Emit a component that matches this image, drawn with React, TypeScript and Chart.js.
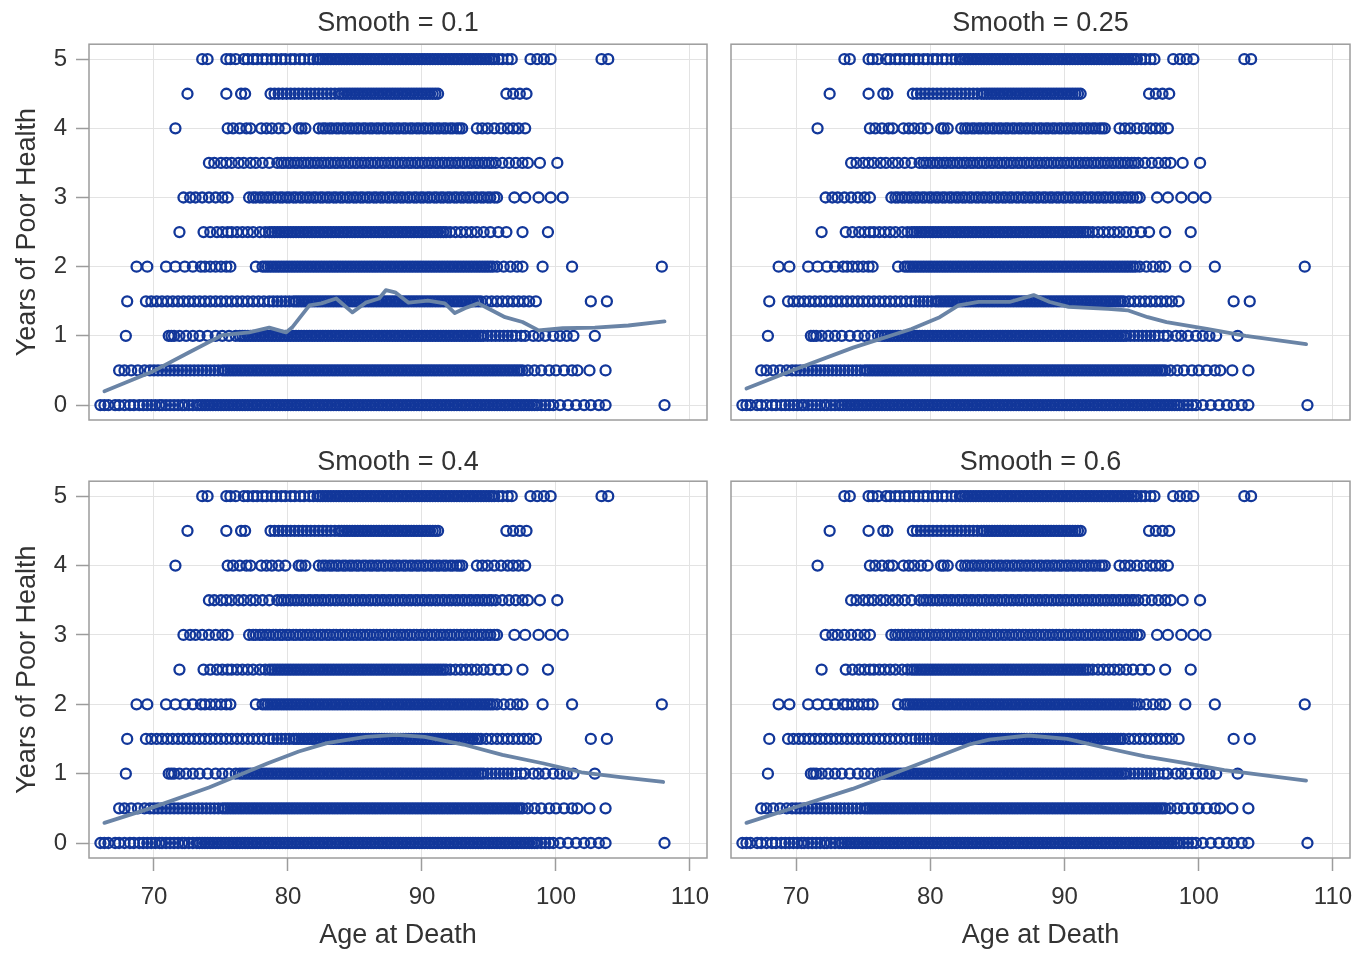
import React, { useEffect, useRef } from "react";
import { Chart, registerables } from "chart.js";

Chart.register(...registerables);

const FONT = '"Liberation Sans", Arial, Helvetica, sans-serif';
const TEXT = "#333333";
const MARKER = "#12379a";
const FIT = "#6a84a6";
const GRID = "#e3e3e3";
const FRAME = "#9c9c9c";

// ---------- axes ----------
const xTicks = [70, 80, 90, 100, 110];
const yTicks = [0, 1, 2, 3, 4, 5];
const X_MIN = 65.15;
const X_MAX = 111.27;
const Y_MIN = -0.216;
const Y_MAX = 5.216;

// ---------- scatter data: age at death for each "years of poor health" level ----------
const yLevels = [0, 0.5, 1, 1.5, 2, 2.5, 3, 3.5, 4, 4.5, 5];

const ageRow0 = [66.0, 66.3, 66.6, 67.1, 67.4, 67.8, 68.2, 68.5,
  68.9, 69.2, 69.5, 69.8, 70.1, 70.4, 70.6, 70.9, 71.2, 71.5, 71.8, 72.1, 72.3, 72.6, 72.9, 73.2,
  73.4, 73.6, 73.8, 74.0, 74.2, 74.4, 74.6, 74.8, 75.0, 75.2, 75.4, 75.6, 75.8, 76.0, 76.2, 76.4, 76.6, 76.8, 77.0, 77.2, 77.4, 77.6, 77.8, 78.0, 78.2, 78.4, 78.6, 78.8, 79.0, 79.2, 79.4, 79.6, 79.8,
  80.0, 80.2, 80.4, 80.6, 80.8, 81.0, 81.2, 81.4, 81.6, 81.8, 82.0, 82.2, 82.4, 82.6, 82.8, 83.0, 83.2, 83.4, 83.6, 83.8, 84.0, 84.2, 84.4, 84.6, 84.8, 85.0, 85.2, 85.4, 85.6, 85.8, 86.0, 86.2, 86.4, 86.6, 86.8, 87.0, 87.2, 87.4, 87.6, 87.8, 88.0, 88.2, 88.4, 88.6, 88.8, 89.0, 89.2, 89.4, 89.6, 89.8,
  90.0, 90.2, 90.4, 90.6, 90.8, 91.0, 91.2, 91.4, 91.6, 91.8, 92.0, 92.2, 92.4, 92.6, 92.8, 93.0, 93.2, 93.4, 93.6, 93.8, 94.0, 94.2, 94.4, 94.6, 94.8, 95.0, 95.2, 95.4, 95.6, 95.8, 96.0, 96.2, 96.4, 96.6, 96.8, 97.0, 97.2, 97.4, 97.6, 97.8, 98.0, 98.2, 98.4, 98.6, 98.9, 99.2, 99.5,
  99.8, 100.3, 100.9, 101.5, 102.1, 102.6, 103.2, 103.7, 108.1];

const ageRow05 = [67.4, 67.8, 68.3, 68.8, 69.3, 69.7,
  70.0, 70.3, 70.6, 70.9, 71.2, 71.5, 71.8, 72.1, 72.4, 72.7, 73.0, 73.3, 73.6, 73.9, 74.2, 74.5, 74.8,
  75.1, 75.3, 75.5, 75.7, 75.9, 76.1, 76.3, 76.5, 76.7, 76.9, 77.1, 77.3, 77.5, 77.7, 77.9, 78.1, 78.3, 78.5, 78.7, 78.9, 79.1, 79.3, 79.5, 79.7, 79.9,
  80.1, 80.3, 80.5, 80.7, 80.9, 81.1, 81.3, 81.5, 81.7, 81.9, 82.1, 82.3, 82.5, 82.7, 82.9, 83.1, 83.3, 83.5, 83.7, 83.9, 84.1, 84.3, 84.5, 84.7, 84.9, 85.1, 85.3, 85.5, 85.7, 85.9, 86.1, 86.3, 86.5, 86.7, 86.9, 87.1, 87.3, 87.5, 87.7, 87.9, 88.1, 88.3, 88.5, 88.7, 88.9, 89.1, 89.3, 89.5, 89.7, 89.9,
  90.1, 90.3, 90.5, 90.7, 90.9, 91.1, 91.3, 91.5, 91.7, 91.9, 92.1, 92.3, 92.5, 92.7, 92.9, 93.1, 93.3, 93.5, 93.7, 93.9, 94.1, 94.3, 94.5, 94.7, 94.9, 95.1, 95.3, 95.5, 95.7, 95.9, 96.1, 96.3, 96.5, 96.7, 96.9, 97.1, 97.3, 97.5,
  97.9, 98.4, 98.9, 99.5, 100.0, 100.6, 101.2, 101.6, 102.5, 103.7];

const ageRow1 = [67.9, 71.1, 71.3, 71.5, 71.9, 72.4, 72.9, 73.4, 74.0, 74.6, 75.1, 75.6, 76.1,
  76.4, 76.6, 76.8, 77.0, 77.2, 77.4, 77.6, 77.8, 78.0, 78.2, 78.4, 78.6, 78.8, 79.0, 79.2, 79.4, 79.6, 79.8,
  80.0, 80.2, 80.4, 80.6, 80.8, 81.0, 81.2, 81.4, 81.6, 81.8, 82.0, 82.2, 82.4, 82.6, 82.8, 83.0, 83.2, 83.4, 83.6, 83.8, 84.0, 84.2, 84.4, 84.6, 84.8, 85.0, 85.2, 85.4, 85.6, 85.8, 86.0, 86.2, 86.4, 86.6, 86.8, 87.0, 87.2, 87.4, 87.6, 87.8, 88.0, 88.2, 88.4, 88.6, 88.8, 89.0, 89.2, 89.4, 89.6, 89.8,
  90.0, 90.2, 90.4, 90.6, 90.8, 91.0, 91.2, 91.4, 91.6, 91.8, 92.0, 92.2, 92.4, 92.6, 92.8, 93.0, 93.2, 93.4, 93.6, 93.8, 94.0, 94.2, 94.4, 94.6,
  94.9, 95.2, 95.5, 95.8, 96.1, 96.4, 96.7, 97.0, 97.4, 97.7,
  98.3, 98.7, 99.2, 99.8, 100.3, 100.8, 101.3, 102.9];

const ageRow15 = [68.0, 69.4, 69.8, 70.2, 70.6, 71.0, 71.4, 71.8, 72.2, 72.6, 73.0, 73.4, 73.8, 74.2, 74.6, 75.0, 75.4, 75.8, 76.2, 76.6, 77.0, 77.4, 77.8, 78.2, 78.6, 78.9, 79.2, 79.5, 79.8, 80.1,
  80.4, 80.6, 80.8, 81.0, 81.2, 81.4, 81.6, 81.8, 82.0, 82.2, 82.4, 82.6, 82.8, 83.0, 83.2, 83.4, 83.6, 83.8, 84.0, 84.2, 84.4, 84.6, 84.8, 85.0, 85.2, 85.4, 85.6, 85.8, 86.0, 86.2, 86.4, 86.6, 86.8, 87.0, 87.2, 87.4, 87.6, 87.8, 88.0, 88.2, 88.4, 88.6, 88.8, 89.0, 89.2, 89.4, 89.6, 89.8,
  90.0, 90.2, 90.4, 90.6, 90.8, 91.0, 91.2, 91.4, 91.6, 91.8, 92.0, 92.2, 92.4, 92.6, 92.8, 93.0, 93.2, 93.4, 93.6, 93.8, 94.0, 94.2, 94.4,
  94.8, 95.2, 95.6, 96.0, 96.4, 96.8, 97.2, 97.6, 98.0, 98.5, 102.6, 103.8];

const ageRow2 = [68.7, 69.5, 70.9, 71.6, 72.3, 72.9, 73.5, 73.8, 74.2, 74.6, 75.0, 75.4, 75.7, 77.6,
  78.1, 78.3, 78.5, 78.7, 78.9, 79.1, 79.3, 79.5, 79.7, 79.9,
  80.1, 80.3, 80.5, 80.7, 80.9, 81.1, 81.3, 81.5, 81.7, 81.9, 82.1, 82.3, 82.5, 82.7, 82.9, 83.1, 83.3, 83.5, 83.7, 83.9, 84.1, 84.3, 84.5, 84.7, 84.9, 85.1, 85.3, 85.5, 85.7, 85.9, 86.1, 86.3, 86.5, 86.7, 86.9, 87.1, 87.3, 87.5, 87.7, 87.9, 88.1, 88.3, 88.5, 88.7, 88.9, 89.1, 89.3, 89.5, 89.7, 89.9,
  90.1, 90.3, 90.5, 90.7, 90.9, 91.1, 91.3, 91.5, 91.7, 91.9, 92.1, 92.3, 92.5, 92.7, 92.9, 93.1, 93.3, 93.5, 93.7, 93.9, 94.1, 94.3, 94.5, 94.7, 94.9, 95.1, 95.3,
  95.6, 96.1, 96.6, 97.1, 97.5, 99.0, 101.2, 107.9];

const ageRow25 = [71.9, 73.7, 74.2, 74.7, 75.1, 75.5, 75.8, 76.2, 76.6, 77.0, 77.4, 77.9, 78.3,
  78.6, 78.8, 79.0, 79.2, 79.4, 79.6, 79.8,
  80.0, 80.2, 80.4, 80.6, 80.8, 81.0, 81.2, 81.4, 81.6, 81.8, 82.0, 82.2, 82.4, 82.6, 82.8, 83.0, 83.2, 83.4, 83.6, 83.8, 84.0, 84.2, 84.4, 84.6, 84.8, 85.0, 85.2, 85.4, 85.6, 85.8, 86.0, 86.2, 86.4, 86.6, 86.8, 87.0, 87.2, 87.4, 87.6, 87.8, 88.0, 88.2, 88.4, 88.6, 88.8, 89.0, 89.2, 89.4, 89.6, 89.8,
  90.0, 90.2, 90.4, 90.6, 90.8, 91.0, 91.2, 91.4, 91.6, 91.8,
  92.1, 92.5, 92.9, 93.3, 93.7, 94.1, 94.6, 95.1, 95.7, 96.3, 97.5, 99.4];

const ageRow3 = [72.2, 72.7, 73.1, 73.6, 74.1, 74.6, 75.1, 75.5,
  77.1, 77.4, 77.6, 77.9, 78.1, 78.4, 78.6, 78.9, 79.1, 79.4, 79.6, 79.9,
  80.1, 80.4, 80.6, 80.9, 81.1, 81.4, 81.6, 81.9, 82.1, 82.4, 82.6, 82.9, 83.1, 83.4, 83.6, 83.9, 84.1, 84.4, 84.6, 84.9, 85.1, 85.4, 85.6, 85.9, 86.1, 86.4, 86.6, 86.9, 87.1, 87.4, 87.6, 87.9, 88.1, 88.4, 88.6, 88.9, 89.1, 89.4, 89.6, 89.9,
  90.1, 90.4, 90.6, 90.9, 91.1, 91.4, 91.6, 91.9, 92.1, 92.4, 92.6, 92.9, 93.1, 93.4, 93.6, 93.9, 94.1, 94.4, 94.6, 94.9, 95.1, 95.4, 95.6,
  96.9, 97.7, 98.7, 99.6, 100.5];

const ageRow35 = [74.1, 74.5, 75.0, 75.4, 75.8, 76.3, 76.7, 77.2, 77.6, 78.1, 78.6,
  79.2, 79.5, 79.7, 80.0, 80.2, 80.5, 80.7, 81.0, 81.2, 81.5, 81.7, 82.0, 82.2, 82.5, 82.7, 83.0, 83.2, 83.5, 83.7, 84.0, 84.2, 84.5, 84.7, 85.0, 85.2, 85.5, 85.7, 86.0, 86.2, 86.5, 86.7, 87.0, 87.2, 87.5, 87.7, 88.0, 88.2, 88.5, 88.7, 89.0, 89.2, 89.5, 89.7,
  90.0, 90.2, 90.5, 90.7, 91.0, 91.2, 91.5, 91.7, 92.0, 92.2, 92.5, 92.7, 93.0, 93.2, 93.5, 93.7, 94.0, 94.2, 94.5, 94.7, 95.0, 95.2,
  95.5, 96.0, 96.5, 97.0, 97.5, 97.9, 98.8, 100.1];

const ageRow4 = [71.6, 75.5, 75.9, 76.4, 76.9, 77.2, 78.0, 78.4, 78.8, 79.3, 79.8, 80.8, 81.0, 81.3,
  82.3, 82.6, 82.8, 83.1, 83.3, 83.6, 83.8, 84.1, 84.3, 84.6, 84.8, 85.1, 85.3, 85.6, 85.8, 86.1, 86.3, 86.6, 86.8, 87.1, 87.3, 87.6, 87.8, 88.1, 88.3, 88.6, 88.8, 89.1, 89.3, 89.6, 89.8,
  90.1, 90.3, 90.6, 90.8, 91.1, 91.3, 91.6, 91.8, 92.1, 92.3, 92.6, 92.8, 93.0,
  94.1, 94.5, 94.9, 95.4, 95.9, 96.4, 96.8, 97.2, 97.7];

const ageRow45 = [72.5, 75.4, 76.5, 76.8,
  78.7, 79.0, 79.3, 79.6, 79.9, 80.2, 80.5, 80.8, 81.1, 81.4, 81.7, 82.0, 82.3, 82.6, 82.9, 83.2, 83.5, 83.8,
  84.0, 84.2, 84.4, 84.6, 84.8, 85.0, 85.2, 85.4, 85.6, 85.8, 86.0, 86.2, 86.4, 86.6, 86.8, 87.0, 87.2, 87.4, 87.6, 87.8, 88.0, 88.2, 88.4, 88.6, 88.8, 89.0, 89.2, 89.4, 89.6, 89.8,
  90.0, 90.2, 90.4, 90.6, 90.8, 91.0, 91.2,
  96.3, 96.8, 97.3, 97.8];

const ageRow5 = [73.6, 74.0, 75.4, 75.7, 76.1,
  76.7, 77.0, 77.4, 77.7, 78.1, 78.4, 78.8, 79.1, 79.5, 79.8, 80.2, 80.5, 80.9, 81.2, 81.6, 81.9,
  82.2, 82.4, 82.6, 82.8, 83.0, 83.2, 83.4, 83.6, 83.8, 84.0, 84.2, 84.4, 84.6, 84.8, 85.0, 85.2, 85.4, 85.6, 85.8, 86.0, 86.2, 86.4, 86.6, 86.8, 87.0, 87.2, 87.4, 87.6, 87.8, 88.0, 88.2, 88.4, 88.6, 88.8, 89.0, 89.2, 89.4, 89.6, 89.8,
  90.0, 90.2, 90.4, 90.6, 90.8, 91.0, 91.2, 91.4, 91.6, 91.8, 92.0, 92.2, 92.4, 92.6, 92.8, 93.0, 93.2, 93.4, 93.6, 93.8, 94.0, 94.2, 94.4, 94.6, 94.8, 95.0, 95.2, 95.4,
  95.7, 96.0, 96.4, 96.7,
  98.1, 98.6, 99.1, 99.6, 103.4, 103.9];

const ageRows = [ageRow0, ageRow05, ageRow1, ageRow15, ageRow2, ageRow25, ageRow3, ageRow35, ageRow4, ageRow45, ageRow5];

// ---------- loess fits ----------
const smooth010Age = [66.3, 69.85, 72.6, 75.1, 77.1, 78.6, 79.85, 80.3, 81.6, 82.5, 83.6, 84.8, 85.8, 86.8, 87.3, 88.0, 89.0, 90.45, 91.7, 92.45, 93.2, 94.2, 95.2, 96.2, 97.5, 98.7, 100.5, 102.9, 105.4, 108.1];
const smooth010Val = [0.20, 0.48, 0.76, 1.01, 1.05, 1.12, 1.05, 1.12, 1.44, 1.47, 1.54, 1.34, 1.48, 1.54, 1.66, 1.63, 1.48, 1.51, 1.47, 1.33, 1.40, 1.47, 1.37, 1.27, 1.20, 1.08, 1.11, 1.12, 1.15, 1.21];

const smooth025Age = [66.3, 69.85, 74.25, 78.6, 80.7, 82.1, 83.6, 85.9, 87.7, 88.9, 90.3, 93.25, 94.7, 96.2, 97.6, 100.6, 103.5, 108.0];
const smooth025Val = [0.24, 0.51, 0.83, 1.10, 1.27, 1.44, 1.49, 1.49, 1.59, 1.49, 1.42, 1.39, 1.37, 1.27, 1.20, 1.10, 1.00, 0.88];

const smooth040Age = [66.3, 69.7, 74.1, 78.5, 80.8, 82.9, 85.8, 88.1, 90.2, 93.1, 96.0, 99.0, 101.9, 104.8, 108.0];
const smooth040Val = [0.29, 0.50, 0.80, 1.15, 1.32, 1.44, 1.53, 1.56, 1.53, 1.42, 1.27, 1.15, 1.02, 0.95, 0.88];

const smooth060Age = [66.3, 70.0, 74.2, 78.6, 82.9, 84.4, 87.3, 90.2, 93.1, 96.0, 99.0, 101.9, 104.8, 108.0];
const smooth060Val = [0.29, 0.52, 0.78, 1.10, 1.42, 1.49, 1.55, 1.50, 1.37, 1.25, 1.15, 1.05, 0.98, 0.90];

const framePlugin = {
  id: "panelFrame",
  afterDatasetsDraw(chart: any) {
    const { ctx, chartArea: a } = chart;
    ctx.save();
    ctx.strokeStyle = FRAME;
    ctx.lineWidth = 1.5;
    ctx.strokeRect(a.left, a.top, a.right - a.left, a.bottom - a.top);
    ctx.restore();
  },
};

type PanelProps = {
  title: string;
  fitAges: number[];
  fitVals: number[];
  showY: boolean;
  showX: boolean;
  left: number;
  top: number;
  width: number;
  height: number;
};

function Panel(p: PanelProps) {
  const ref = useRef<HTMLCanvasElement | null>(null);
  useEffect(() => {
    if (!ref.current) return;
    const points: { x: number; y: number }[] = [];
    ageRows.forEach((row, i) => row.forEach((a) => points.push({ x: a, y: yLevels[i] })));
    const fit = p.fitAges.map((a, i) => ({ x: a, y: p.fitVals[i] }));
    const titlePad = p.showX ? { top: 16, bottom: 2.8 } : { top: 7, bottom: 4.8 };
    const chart = new Chart(ref.current, {
      type: "scatter",
      data: {
        datasets: [
          {
            type: "line",
            data: fit,
            borderColor: FIT,
            borderWidth: 3.8,
            pointRadius: 0,
            fill: false,
            tension: 0,
            borderJoinStyle: "round",
            borderCapStyle: "round",
            order: 0,
          } as any,
          {
            type: "scatter",
            data: points,
            pointRadius: 5,
            pointBorderWidth: 2.3,
            borderColor: MARKER,
            pointBorderColor: MARKER,
            backgroundColor: "rgba(0,0,0,0)",
            pointBackgroundColor: "rgba(0,0,0,0)",
            order: 1,
          } as any,
        ],
      },
      options: {
        animation: false,
        responsive: false,
        events: [],
        layout: { padding: { left: 0, top: 0, right: p.showY ? 8 : 21, bottom: p.showX ? 0 : 10 } },
        plugins: {
          legend: { display: false },
          tooltip: { enabled: false },
          title: {
            display: true,
            fullSize: false,
            text: p.title,
            color: TEXT,
            font: { family: FONT, size: 27, weight: "normal" },
            padding: titlePad,
          },
        },
        scales: {
          x: {
            type: "linear",
            min: X_MIN,
            max: X_MAX,
            afterBuildTicks: (axis: any) => {
              axis.ticks = xTicks.map((v) => ({ value: v }));
            },
            afterFit: (s: any) => {
              s.height = p.showX ? 97 : 0;
              s.paddingLeft = 0;
              s.paddingRight = 0;
            },
            ticks: {
              display: p.showX,
              autoSkip: false,
              maxRotation: 0,
              color: TEXT,
              padding: 12,
              font: { family: FONT, size: 24 },
              callback: (v: any) => String(v),
            },
            grid: {
              color: GRID,
              lineWidth: 1,
              drawTicks: p.showX,
              tickLength: 13,
              tickColor: FRAME,
              tickWidth: 1.5,
            },
            border: { display: false },
            title: {
              display: p.showX,
              text: "Age at Death",
              color: TEXT,
              font: { family: FONT, size: 27 },
              padding: { top: 0, bottom: 3.4 },
            },
          },
          y: {
            type: "linear",
            min: Y_MIN,
            max: Y_MAX,
            afterBuildTicks: (axis: any) => {
              axis.ticks = yTicks.map((v) => ({ value: v }));
            },
            afterFit: (s: any) => {
              s.width = p.showY ? 89 : 16;
              s.paddingTop = 0;
              s.paddingBottom = 0;
            },
            ticks: {
              display: p.showY,
              autoSkip: false,
              color: TEXT,
              padding: 9,
              font: { family: FONT, size: 24 },
              callback: (v: any) => String(v),
            },
            grid: {
              color: GRID,
              lineWidth: 1,
              drawTicks: p.showY,
              tickLength: 13,
              tickColor: FRAME,
              tickWidth: 1.5,
            },
            border: { display: false },
            title: {
              display: p.showY,
              text: "Years of Poor Health",
              color: TEXT,
              font: { family: FONT, size: 27 },
              padding: { top: 11, bottom: 0 },
            },
          },
        },
      } as any,
      plugins: [framePlugin],
    });
    return () => chart.destroy();
  }, []);
  return (
    <canvas
      ref={ref}
      width={p.width}
      height={p.height}
      style={{ position: "absolute", left: p.left, top: p.top, width: p.width, height: p.height }}
    />
  );
}

export default function App() {
  return (
    <div style={{ position: "absolute", left: 0, top: 0, width: 1371, height: 955, background: "#ffffff", overflow: "hidden" }}>
      <Panel title="Smooth = 0.1" fitAges={smooth010Age} fitVals={smooth010Val} showY={true} showX={false} left={0} top={0} width={715} height={430} />
      <Panel title="Smooth = 0.25" fitAges={smooth025Age} fitVals={smooth025Val} showY={false} showX={false} left={715} top={0} width={656} height={430} />
      <Panel title="Smooth = 0.4" fitAges={smooth040Age} fitVals={smooth040Val} showY={true} showX={true} left={0} top={430} width={715} height={525} />
      <Panel title="Smooth = 0.6" fitAges={smooth060Age} fitVals={smooth060Val} showY={false} showX={true} left={715} top={430} width={656} height={525} />
    </div>
  );
}
